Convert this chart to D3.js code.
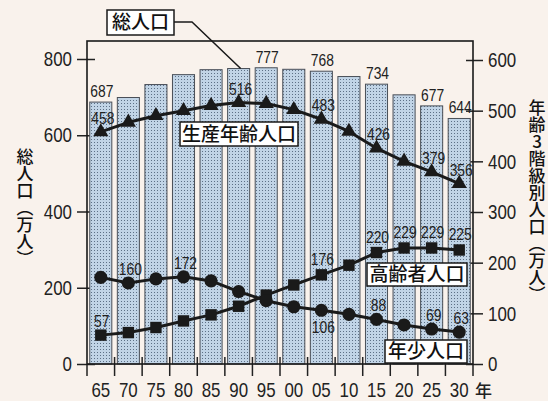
<!DOCTYPE html>
<html><head><meta charset="utf-8">
<script src="https://cdn.jsdelivr.net/npm/d3@7"></script>
<style>
html,body{margin:0;padding:0;background:#f9f2ec;}
svg{display:block;}
.num{font-family:"Liberation Sans",Arial,sans-serif;}
.jp{font-family:"Noto Sans CJK JP","Noto Sans CJK SC",sans-serif;}
.vt{writing-mode:vertical-rl;text-orientation:upright;}
</style></head><body>
<svg id="chart" width="548" height="401"></svg>
<script>
// Census years (two-digit) and population by age group, in 万人
const years    = ["65","70","75","80","85","90","95","00","05","10","15","20","25","30"];
const total    = [687, 699, 733, 759, 772, 775, 777, 773, 768, 754, 734, 706, 677, 644];
const working  = [458, 477, 490, 500, 510, 516, 514, 502, 483, 459, 426, 400, 379, 356];
const elderly  = [ 57,  62,  72,  85,  97, 114, 136, 156, 176, 195, 220, 229, 229, 225];
const youth    = [171, 160, 168, 172, 164, 143, 125, 113, 106,  98,  88,  77,  69,  63];
const leftTicks  = [0, 200, 400, 600, 800];
const rightTicks = [0, 100, 200, 300, 400, 500, 600];

// years whose value is printed next to the mark
const totalShown   = ["65","95","05","15","25","30"];
const workingShown = ["65","90","05","15","25","30"];
const elderlyShown = ["65","05","15","20","25","30"];
const youthShown   = ["70","80","05","15","25","30"];

const svg = d3.select("#chart");
const L = 87, R = 473, T = 41, B = 364;

const x = d3.scaleBand().domain(years).range([L, R]).paddingInner(0.2).paddingOuter(0.1);
const yL = d3.scaleLinear().domain([0, 800]).range([B, 59]);
const yR = d3.scaleLinear().domain([0, 600]).range([B, 60]);
const cx = d => x(d) + x.bandwidth() / 2;

// condensed digits: squeeze each number to a fixed width per digit
const squeeze = (sel, perDigit) => sel
  .attr("textLength", function () { return this.textContent.length * perDigit; })
  .attr("lengthAdjust", "spacingAndGlyphs");

// dotted screen for the bars
const defs = svg.append("defs");
const pat = defs.append("pattern").attr("id", "dots").attr("patternUnits", "userSpaceOnUse")
  .attr("width", 3).attr("height", 3);
pat.append("rect").attr("width", 3).attr("height", 3).attr("fill", "#c1d4e6");
pat.append("rect").attr("x", 1).attr("y", 1).attr("width", 1).attr("height", 1).attr("fill", "#5d7086");

// left axis
const gL = svg.append("g").attr("class", "num").attr("transform", `translate(${L},0)`)
  .call(d3.axisLeft(yL).tickValues(leftTicks).tickSizeInner(10).tickSizeOuter(0).tickPadding(5));
gL.select(".domain").remove();
gL.selectAll(".tick line").attr("x1", 8).attr("stroke", "#222").attr("stroke-width", 1.5);
gL.selectAll(".tick text").attr("font-size", 21).attr("fill", "#222").attr("font-family", null)
  .call(squeeze, 9.4);

// right axis
const gR = svg.append("g").attr("class", "num").attr("transform", `translate(${R},0)`)
  .call(d3.axisRight(yR).tickValues(rightTicks).tickSizeInner(10).tickSizeOuter(0).tickPadding(5));
gR.select(".domain").remove();
gR.selectAll(".tick line").attr("x1", -7).attr("stroke", "#222").attr("stroke-width", 1.5);
gR.selectAll(".tick text").attr("font-size", 21).attr("fill", "#222").attr("font-family", null)
  .call(squeeze, 9.4);

// bottom axis: labels under bars, ticks between bars
const gB = svg.append("g").attr("class", "num").attr("transform", `translate(0,${B})`)
  .call(d3.axisBottom(x).tickSize(0).tickPadding(18));
gB.select(".domain").remove();
gB.selectAll(".tick text").attr("font-size", 21).attr("fill", "#222").attr("font-family", null)
  .call(squeeze, 9.4);
const gap = x.step() * x.paddingInner() / 2;
svg.append("g").selectAll("line").data(years.slice(0, -1)).join("line")
  .attr("x1", d => x(d) + x.bandwidth() + gap).attr("x2", d => x(d) + x.bandwidth() + gap)
  .attr("y1", B - 7).attr("y2", B + 12).attr("stroke", "#222").attr("stroke-width", 1.5);
svg.append("g").selectAll("line").data([L, R]).join("line")
  .attr("x1", d => d).attr("x2", d => d).attr("y1", B).attr("y2", B + 12)
  .attr("stroke", "#222").attr("stroke-width", 1.5);
svg.append("text").attr("class", "jp").attr("x", 475).attr("y", 397)
  .attr("font-size", 17).attr("font-weight", 500).attr("fill", "#222").text("年");

// bars: total population
svg.append("g").selectAll("rect").data(years).join("rect")
  .attr("x", d => x(d)).attr("width", x.bandwidth())
  .attr("y", (d, i) => yL(total[i])).attr("height", (d, i) => B - yL(total[i]))
  .attr("fill", "url(#dots)").attr("stroke", "#4a4f57").attr("stroke-width", 1);

// frame
svg.append("rect").attr("x", L).attr("y", T).attr("width", R - L).attr("height", B - T)
  .attr("fill", "none").attr("stroke", "#1a1a1a").attr("stroke-width", 1.6);

// age-group lines
const line = d3.line().x(d => cx(d[0])).y(d => yR(d[1]));
function series(vals, shape) {
  const pts = years.map((y, i) => [y, vals[i]]);
  svg.append("path").datum(pts).attr("d", line).attr("fill", "none")
    .attr("stroke", "#1a1a1a").attr("stroke-width", 3).attr("stroke-linejoin", "round");
  svg.append("g").selectAll("path").data(pts).join("path")
    .attr("transform", d => `translate(${cx(d[0])},${yR(d[1])})`)
    .attr("d", d3.symbol().type(shape.type).size(shape.size))
    .attr("fill", "#1a1a1a");
}
series(working, {type: d3.symbolTriangle, size: 100});
series(elderly, {type: d3.symbolSquare, size: 130});
series(youth,   {type: d3.symbolCircle, size: 135});

// value labels
function labels(vals, shown, scale, dx, dy) {
  svg.append("g").attr("class", "num").selectAll("text").data(shown).join("text")
    .attr("x", d => cx(d) + dx)
    .attr("y", d => scale(vals[years.indexOf(d)]) + (typeof dy === "function" ? dy(d) : dy))
    .attr("text-anchor", "middle").attr("font-size", 17).attr("fill", "#222")
    .text(d => vals[years.indexOf(d)])
    .call(squeeze, 7.7);
}
labels(total, totalShown, yL, 1, -5);
labels(working, workingShown, yR, 2, -8);
labels(elderly, elderlyShown, yR, 1, d => d === "65" ? -8 : -10);
labels(youth, youthShown, yR, 2, d => d === "05" ? 23 : -8);

// boxed series names
function box(txt, x0, y0, w, h) {
  svg.append("rect").attr("x", x0).attr("y", y0).attr("width", w).attr("height", h)
    .attr("fill", "#ffffff").attr("stroke", "#1a1a1a").attr("stroke-width", 1.5);
  svg.append("text").attr("class", "jp").attr("x", x0 + w / 2).attr("y", y0 + h / 2)
    .attr("dy", "0.36em").attr("text-anchor", "middle").attr("font-size", 19)
    .attr("font-weight", 500).attr("fill", "#111").text(txt);
}
svg.append("path").attr("d", `M174,22 L192,22 L${cx("90") + 2},${yL(total[5])}`)
  .attr("fill", "none").attr("stroke", "#1a1a1a").attr("stroke-width", 1.5);
box("総人口", 107, 10, 67, 25);
box("生産年齢人口", 180, 122, 118, 24);
box("高齢者人口", 367, 263, 100, 23);
box("年少人口", 385, 340, 82, 23);

// vertical axis titles
svg.append("text").attr("class", "jp vt").attr("x", 25).attr("y", 148)
  .attr("font-size", 17).attr("font-weight", 500).attr("fill", "#111")
  .text("総人口（万人）");
svg.append("text").attr("class", "jp vt").attr("x", 537).attr("y", 99)
  .attr("font-size", 17).attr("font-weight", 500).attr("fill", "#111")
  .text("年齢3階級別人口（万人）");
</script>
</body></html>
